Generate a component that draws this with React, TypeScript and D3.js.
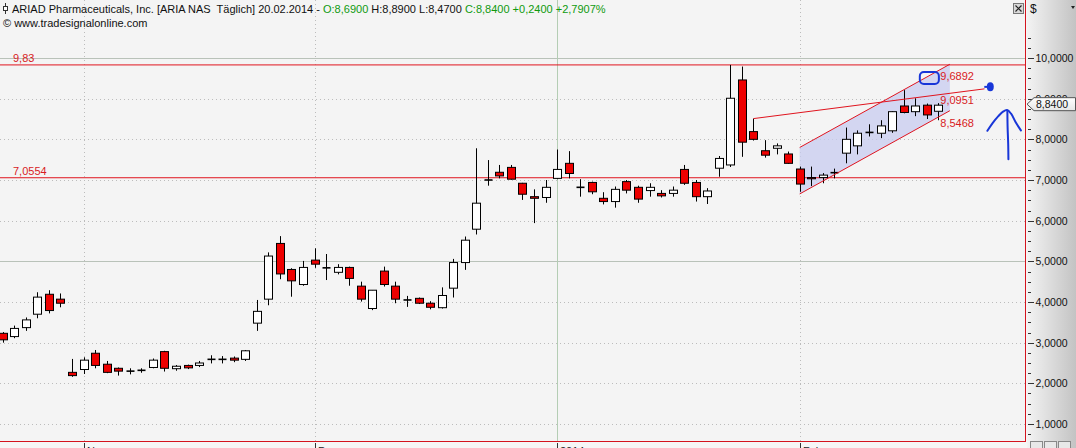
import React from "react";
import * as d3 from "d3";

const W = 1076;
const H = 448;

// OHLC values, one per trading day (index 0 .. 81)
const opens = [
  3.23, 3.15, 3.37, 3.70, 4.19, 4.07, 2.27, 2.34, 2.74, 2.47,
  2.37, 2.30, 2.33, 2.39, 2.78, 2.36, 2.44, 2.44, 2.59, 2.59,
  2.62, 2.59, 3.48, 4.07, 5.44, 4.80, 4.43, 5.03, 4.85, 4.73,
  4.85, 4.39, 3.84, 4.76, 4.39, 4.06, 4.09, 3.97, 3.86, 4.34,
  4.97, 5.79, 7.01, 7.19, 7.31, 6.92, 6.59, 6.57, 7.04, 7.41,
  6.82, 6.94, 6.55, 6.47, 6.96, 6.82, 6.74, 6.67, 6.67, 7.26,
  6.94, 6.59, 7.29, 7.37, 9.46, 8.19, 7.72, 7.78, 7.64, 7.27,
  7.06, 7.06, 7.18, 7.66, 7.84, 8.18, 8.15, 8.21, 8.82, 8.68,
  8.84, 8.69,
];
const highs = [
  3.26, 3.42, 3.62, 4.24, 4.29, 4.21, 2.60, 2.64, 2.82, 2.55,
  2.39, 2.37, 2.37, 2.61, 2.80, 2.45, 2.46, 2.55, 2.69, 2.67,
  2.66, 2.82, 4.05, 5.22, 5.62, 4.83, 5.01, 5.32, 5.18, 4.93,
  4.87, 4.50, 4.29, 4.87, 4.50, 4.15, 4.11, 4.02, 4.36, 5.06,
  5.61, 7.78, 7.49, 7.37, 7.37, 6.93, 6.77, 7.00, 7.75, 7.71,
  7.02, 6.96, 6.70, 6.84, 7.00, 6.86, 6.92, 6.75, 6.84, 7.37,
  7.00, 6.80, 7.59, 9.83, 9.79, 8.51, 7.98, 7.90, 7.70, 7.33,
  7.33, 7.17, 7.28, 8.29, 8.22, 8.37, 8.47, 8.69, 9.21, 9.01,
  8.88, 8.89,
];
const lows = [
  3.00, 3.11, 3.29, 3.60, 3.72, 3.87, 2.16, 2.23, 2.37, 2.25,
  2.19, 2.22, 2.26, 2.37, 2.29, 2.31, 2.35, 2.40, 2.49, 2.49,
  2.52, 2.55, 3.29, 3.92, 4.56, 4.13, 4.40, 4.84, 4.54, 4.68,
  4.40, 4.01, 3.80, 4.38, 3.97, 3.88, 3.95, 3.82, 3.84, 4.11,
  4.79, 5.66, 6.86, 7.04, 7.01, 6.51, 5.94, 6.44, 7.02, 7.04,
  6.59, 6.65, 6.40, 6.32, 6.67, 6.44, 6.59, 6.57, 6.59, 6.88,
  6.47, 6.41, 7.08, 7.32, 7.57, 7.97, 7.55, 7.63, 7.40, 6.71,
  6.85, 6.92, 7.04, 7.41, 7.63, 8.07, 8.03, 8.16, 8.64, 8.57,
  8.50, 8.47,
];
const closes = [
  3.07, 3.35, 3.56, 4.12, 3.79, 3.97, 2.19, 2.57, 2.44, 2.27,
  2.30, 2.30, 2.31, 2.57, 2.37, 2.42, 2.38, 2.50, 2.59, 2.59,
  2.57, 2.80, 3.77, 5.13, 4.69, 4.52, 4.85, 4.93, 4.83, 4.85,
  4.58, 4.07, 4.29, 4.43, 4.07, 4.04, 3.97, 3.87, 4.16, 4.97,
  5.52, 6.43, 6.99, 7.10, 7.02, 6.65, 6.55, 6.82, 7.26, 7.16,
  6.82, 6.71, 6.47, 6.77, 6.75, 6.53, 6.82, 6.61, 6.75, 6.92,
  6.59, 6.73, 7.53, 9.01, 7.93, 8.00, 7.61, 7.84, 7.41, 6.90,
  7.03, 7.12, 7.18, 8.00, 8.15, 8.16, 8.33, 8.68, 8.66, 8.82,
  8.60, 8.84,
];

const yTicks = [1, 2, 3, 4, 5, 6, 7, 8, 9, 10];
const solidGridValues = [10, 5];
const monthTickIndex = [7, 27, 48, 69];
const monthLabels = ["Nov", "Dez", "2014", "Feb"];
const yearTickIndex = 48;

const levelValues = [9.83, 7.0554];
const levelLabels = ["9,83", "7,0554"];

// regression channel (index range, upper line values, channel width)
const channelIndex = [69, 82];
const channelUpper = [7.80, 9.8466];
const channelWidth = 1.1424;
const channelLabelValues = [9.6892, 9.0951, 8.5468];

// trend line
const trendIndex = [65, 85];
const trendValues = [8.51, 9.2414];

// hand-drawn blue marks (index, value)
const blueBox = { i0: 79.4, i1: 81.05, v0: 9.655, v1: 9.36 };
const blueDot = { i: 85.5, v: 9.29 };
const blueArrowHead: [number, number][] = [
  [85.25, 8.21], [85.7, 8.40], [86.2, 8.57], [86.6, 8.68], [86.95, 8.72],
  [87.3, 8.63], [87.7, 8.42], [88.15, 8.22],
];
const blueArrowStem: [number, number][] = [
  [86.98, 8.70], [87.0, 8.3], [87.05, 7.9], [87.07, 7.51],
];

const fmt4 = (v: number) => d3.format(".4f")(v).replace(".", ",");
const fmtSigned = (v: number) => (v >= 0 ? "+" : "") + fmt4(v);

export default function App() {
  const plotRight = 1025;
  const plotBottom = 441;
  const x = d3.scaleLinear().domain([0, 81]).range([2.7, 938.3]);
  const y = d3.scaleLinear().domain([1, 10]).range([424, 58]);
  const bw = 8;

  const n = closes.length;
  const last = n - 1;
  const chg = closes[last] - closes[last - 1];
  const pct = (chg / closes[last - 1]) * 100;

  const chanLower = [channelUpper[0] - channelWidth, channelUpper[1] - channelWidth];
  const chanPoly = [
    [x(channelIndex[0]), y(channelUpper[0])],
    [x(channelIndex[1]), y(channelUpper[1])],
    [x(channelIndex[1]), y(chanLower[1])],
    [x(channelIndex[0]), y(chanLower[0])],
  ];
  const lineGen = d3
    .line<[number, number]>()
    .x((d) => x(d[0]))
    .y((d) => y(d[1]))
    .curve(d3.curveCatmullRom);

  const minorTicks = d3.range(0.75, 10.6, 0.25).filter((v) => y(v) > 14 && y(v) < plotBottom);

  const font = "'Liberation Sans', Arial, sans-serif";

  return (
    <svg
      width={W}
      height={H}
      style={{ position: "absolute", left: 0, top: 0, display: "block" }}
      fontFamily={font}
    >
      <defs>
        <linearGradient id="axisGrad" x1="0" x2="1" y1="0" y2="0">
          <stop offset="0" stopColor="#f3f3f3" />
          <stop offset="1" stopColor="#c3c3c3" />
        </linearGradient>
        <linearGradient id="tagGrad" x1="0" x2="0" y1="0" y2="1">
          <stop offset="0" stopColor="#ffffff" />
          <stop offset="1" stopColor="#e6e6e6" />
        </linearGradient>
        <clipPath id="plotClip">
          <rect x={0} y={0} width={plotRight} height={plotBottom} />
        </clipPath>
      </defs>

      {/* backgrounds */}
      <rect x={0} y={0} width={W} height={H} fill="#f6f6f6" />
      <rect x={0} y={0} width={plotRight} height={plotBottom} fill="#f4f4f4" />
      <rect x={1027} y={0} width={W - 1027} height={H} fill="url(#axisGrad)" />

      {/* grid */}
      <g clipPath="url(#plotClip)">
        {yTicks.map((v) => (
          <line
            key={"gy" + v}
            x1={0}
            x2={plotRight}
            y1={Math.round(y(v)) + 0.5}
            y2={Math.round(y(v)) + 0.5}
            stroke={solidGridValues.includes(v) ? "#b9c2b9" : "#bcbcbc"}
            strokeDasharray={solidGridValues.includes(v) ? undefined : "1,3"}
          />
        ))}
        {monthTickIndex.map((i) => (
          <line
            key={"gx" + i}
            x1={Math.round(x(i)) + 0.5}
            x2={Math.round(x(i)) + 0.5}
            y1={0}
            y2={plotBottom}
            stroke={i === yearTickIndex ? "#b4cdb4" : "#bcbcbc"}
            strokeDasharray={i === yearTickIndex ? undefined : "1,3"}
          />
        ))}
      </g>

      {/* channel fill */}
      <polygon points={chanPoly.map((p) => p.join(",")).join(" ")} fill="#c8ccf0" fillOpacity={0.75} />

      {/* horizontal levels */}
      {levelValues.map((v, k) => (
        <g key={"lvl" + k}>
          <line x1={0} x2={plotRight} y1={y(v)} y2={y(v)} stroke="#e0141e" strokeWidth={1} />
          <text x={13} y={y(v) - 3.2} fontSize={11} fill="#d81b24">
            {levelLabels[k]}
          </text>
        </g>
      ))}

      {/* candles */}
      <g>
        {closes.map((c, i) => {
          const o = opens[i];
          const cx = Math.round(x(i)) + 0.5;
          const top = Math.min(y(o), y(c));
          const bot = Math.max(y(o), y(c));
          const up = c >= o;
          const h = bot - top;
          return (
            <g key={"c" + i}>
              <line x1={cx} x2={cx} y1={y(highs[i])} y2={y(lows[i])} stroke="#000" strokeWidth={1} />
              {h < 1.2 ? (
                <line x1={cx - bw / 2} x2={cx + bw / 2} y1={(top + bot) / 2} y2={(top + bot) / 2} stroke="#000" strokeWidth={1.6} />
              ) : (
                <rect
                  x={cx - bw / 2}
                  y={top}
                  width={bw}
                  height={h}
                  fill={up ? "#ffffff" : "#ee0000"}
                  stroke="#000"
                  strokeWidth={1}
                />
              )}
            </g>
          );
        })}
      </g>

      {/* channel lines */}
      <line x1={chanPoly[0][0]} y1={chanPoly[0][1]} x2={chanPoly[1][0]} y2={chanPoly[1][1]} stroke="#e0141e" />
      <line x1={chanPoly[3][0]} y1={chanPoly[3][1]} x2={chanPoly[2][0]} y2={chanPoly[2][1]} stroke="#e0141e" />
      {/* trend line */}
      <line
        x1={x(trendIndex[0])}
        y1={y(trendValues[0])}
        x2={x(trendIndex[1])}
        y2={y(trendValues[1])}
        stroke="#e0141e"
      />
      {channelLabelValues.map((v, k) => (
        <text key={"cl" + k} x={x(last) + 2} y={y(v) + 9.5} fontSize={11} fill="#d81b24">
          {fmt4(v)}
        </text>
      ))}

      {/* hand-drawn blue annotations */}
      <rect
        x={x(blueBox.i0)}
        y={y(blueBox.v0)}
        width={x(blueBox.i1) - x(blueBox.i0)}
        height={y(blueBox.v1) - y(blueBox.v0)}
        rx={4}
        fill="none"
        stroke="#1836d8"
        strokeWidth={2}
      />
      <ellipse cx={x(blueDot.i)} cy={y(blueDot.v)} rx={3.5} ry={4.5} fill="#1836d8" />
      <line x1={x(blueDot.i) - 6} x2={x(blueDot.i)} y1={y(blueDot.v)} y2={y(blueDot.v)} stroke="#1836d8" strokeWidth={2} />
      <path d={lineGen(blueArrowHead) || ""} fill="none" stroke="#1836d8" strokeWidth={2} strokeLinecap="round" />
      <path d={lineGen(blueArrowStem) || ""} fill="none" stroke="#1836d8" strokeWidth={2} strokeLinecap="round" />

      {/* plot border */}
      <line x1={plotRight + 0.5} x2={plotRight + 0.5} y1={0} y2={plotBottom} stroke="#d4141e" />
      <line x1={0} x2={plotRight + 1} y1={plotBottom + 0.5} y2={plotBottom + 0.5} stroke="#d4141e" />

      {/* x axis ticks and (clipped) labels */}
      {monthTickIndex.map((i, k) => (
        <g key={"xt" + i}>
          <line x1={Math.round(x(i)) + 0.5} x2={Math.round(x(i)) + 0.5} y1={443} y2={H} stroke="#333" />
          <text x={Math.round(x(i)) + 3} y={454.8} fontSize={11} fill="#222">
            {monthLabels[k]}
          </text>
        </g>
      ))}

      {/* right axis */}
      {minorTicks.map((v, k) => (
        <line key={"mt" + k} x1={1028} x2={1031} y1={Math.round(y(v)) + 0.5} y2={Math.round(y(v)) + 0.5} stroke="#333" />
      ))}
      {yTicks.map((v) => (
        <g key={"yt" + v}>
          <line x1={1028} x2={1034} y1={Math.round(y(v)) + 0.5} y2={Math.round(y(v)) + 0.5} stroke="#333" />
          <text x={1035.5} y={y(v) + 4} fontSize={10.5} fill="#111">
            {fmt4(v)}
          </text>
        </g>
      ))}
      {/* last price tag */}
      <path
        d={`M${1027},${y(closes[last]) - 1} L${1034},${y(closes[last]) - 7.5} L${1075.5},${y(closes[last]) - 7.5} L${1075.5},${y(closes[last]) + 5.5} L${1034},${y(closes[last]) + 5.5} Z`}
        fill="url(#tagGrad)"
        stroke="#555"
      />
      <text x={1036} y={y(closes[last]) + 3} fontSize={10.5} fill="#111">
        {fmt4(closes[last])}
      </text>
      <text x={1030} y={13} fontSize={12} fill="#111">$</text>
      <path d="M1071,6 L1075,6 L1073,9 Z" fill="#222" />

      {/* close button */}
      <rect x={1013.5} y={3.5} width={10} height={10} fill="#d8d8d8" stroke="#777" />
      <path d="M1015.5,5.5 L1021.5,11.5 M1021.5,5.5 L1015.5,11.5" stroke="#222" strokeWidth={1.2} />

      {/* bottom right buttons */}
      {[0, 1, 2].map((k) => (
        <rect key={"bb" + k} x={1030.5 + k * 14} y={441.5} width={12} height={10} fill="#e8e8e8" stroke="#888" />
      ))}

      {/* header */}
      <g>
        <line x1={5.5} x2={5.5} y1={3} y2={14} stroke="#333" />
        <rect x={3.5} y={6.5} width={4} height={4} fill="#fff" stroke="#333" />
        <text x={12} y={12.5} fontSize={11} fill="#111" style={{ whiteSpace: "pre" }}>
          <tspan>{"ARIAD Pharmaceuticals, Inc. [ARIA NAS  Täglich] 20.02.2014 - "}</tspan>
          <tspan fill="#0f9a0f">{"O:" + fmt4(opens[last])}</tspan>
          <tspan>{" H:" + fmt4(highs[last]) + " L:" + fmt4(lows[last]) + " "}</tspan>
          <tspan fill="#0f9a0f">{"C:" + fmt4(closes[last]) + " " + fmtSigned(chg) + " " + fmtSigned(pct) + "%"}</tspan>
        </text>
        <text x={3} y={27} fontSize={11} fill="#111">
          {"© www.tradesignalonline.com"}
        </text>
      </g>
    </svg>
  );
}
